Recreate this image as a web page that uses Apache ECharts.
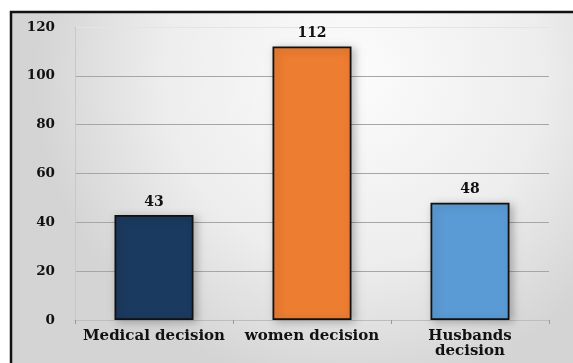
<!DOCTYPE html>
<html>
<head>
<meta charset="utf-8">
<script src="https://cdn.jsdelivr.net/npm/echarts@6/dist/echarts.min.js"></script>
<style>
html, body { margin: 0; padding: 0; background: #fff; }
#chart { width: 573px; height: 363px; }
</style>
</head>
<body>
<div id="chart"></div>
<script>
// 数据
var categories = ['Medical decision', 'women decision', 'Husbands decision'];
var values = [43, 112, 48];
var barColors = ['#1b3a5f', '#ed7d31', '#5b9bd5'];
var yTicks = [0, 20, 40, 60, 80, 100, 120];

var fontFam = 'DejaVu Serif';

var myChart = echarts.init(document.getElementById('chart'));

var option = {
  animation: false,
  backgroundColor: '#ffffff',
  graphic: [
    {
      type: 'rect',
      z: -10,
      silent: true,
      shape: { x: 11, y: 12, width: 620, height: 420 },
      style: {
        fill: {
          type: 'radial',
          x: 0.55, y: 0.15, r: 0.75,
          colorStops: [
            { offset: 0, color: '#fcfcfc' },
            { offset: 0.6, color: '#ededed' },
            { offset: 1, color: '#d4d4d4' }
          ]
        },
        stroke: '#111',
        lineWidth: 2.5
      }
    }
  ],
  grid: {
    left: 75,
    right: 24,
    top: 27,
    bottom: 43
  },
  xAxis: {
    type: 'category',
    data: categories,
    axisLine: { show: true, lineStyle: { color: '#bdbdbd', width: 1 } },
    axisTick: { show: true, length: 4, lineStyle: { color: '#9a9a9a' } },
    axisLabel: {
      color: '#111',
      fontFamily: fontFam,
      fontWeight: 'bold',
      fontSize: 15,
      margin: 9,
      lineHeight: 15,
      interval: 0,
      formatter: function (v) {
        return v === 'Husbands decision' ? 'Husbands\ndecision' : v;
      }
    }
  },
  yAxis: {
    type: 'value',
    min: 0,
    max: 120,
    interval: 20,
    axisLine: { show: true, lineStyle: { color: '#c8c8c8', width: 1 } },
    axisTick: { show: false },
    axisLabel: {
      color: '#111',
      fontFamily: fontFam,
      fontWeight: 'bold',
      fontSize: 13.5,
      margin: 20,
      formatter: function (v) { return yTicks.indexOf(v) >= 0 ? String(v) : ''; }
    },
    splitLine: {
      show: true,
      lineStyle: {
        color: ['#a6a6a6', '#a6a6a6', '#a6a6a6', '#a6a6a6', '#a6a6a6', '#a6a6a6', '#e4e4e4'],
        width: 1
      }
    }
  },
  series: [
    {
      type: 'bar',
      barWidth: '50%',
      data: values.map(function (v, i) {
        return {
          value: v,
          itemStyle: { color: barColors[i] }
        };
      }),
      itemStyle: {
        borderColor: '#111',
        borderWidth: 1.8,
        shadowColor: 'rgba(0,0,0,0.25)',
        shadowBlur: 8,
        shadowOffsetX: 3,
        shadowOffsetY: 2
      },
      label: {
        show: true,
        position: 'top',
        distance: 6,
        color: '#111',
        fontFamily: fontFam,
        fontWeight: 'bold',
        fontSize: 14
      }
    }
  ]
};

myChart.setOption(option);
</script>
</body>
</html>
